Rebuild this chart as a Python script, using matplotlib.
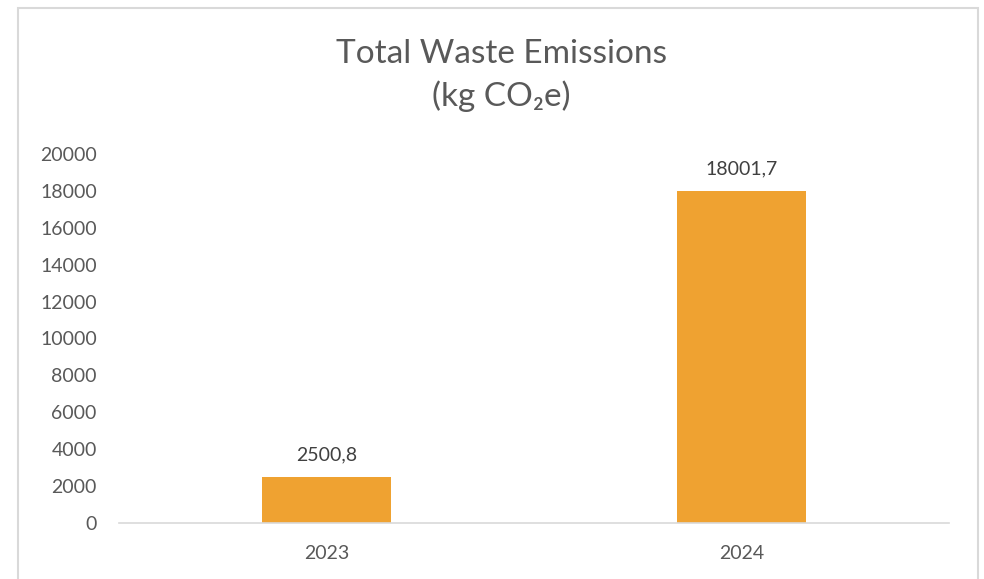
import matplotlib.pyplot as plt
from matplotlib.patches import Rectangle

# data
years = ['2023', '2024']
emissions = [2500.8, 18001.7]
y_ticks = [0, 2000, 4000, 6000, 8000, 10000, 12000, 14000, 16000, 18000, 20000]

bar_color = '#EFA231'
text_gray = '#595959'
label_gray = '#404040'
line_gray = '#D9D9D9'

plt.rcParams['font.family'] = ['Lato', 'DejaVu Sans']

W, H = 984, 579
fig = plt.figure(figsize=(W / 100, H / 100), dpi=100)

# chart border (bottom edge runs off the image)
fig.patches.append(Rectangle((18 / W, -0.05), 960 / W, 1.05 - 8 / H,
                             transform=fig.transFigure, fill=False,
                             edgecolor=line_gray, linewidth=1.5))

ax = fig.add_axes([119 / W, (H - 523) / H, 830 / W, 369 / H])
x = range(len(years))
bars = ax.bar(x, emissions, width=0.313, color=bar_color)

ax.set_xlim(-0.5, 1.5)
ax.set_ylim(0, 20000)
ax.set_yticks(y_ticks)
ax.set_yticklabels([str(t) for t in y_ticks])
ax.set_xticks(list(x))
ax.set_xticklabels(years)
ax.tick_params(axis='y', length=0, pad=16, labelsize=14, labelcolor=text_gray)
ax.tick_params(axis='x', length=0, pad=16, labelsize=14, labelcolor=text_gray)

for side in ['top', 'right', 'left']:
    ax.spines[side].set_visible(False)
ax.spines['bottom'].set_color(line_gray)
ax.spines['bottom'].set_linewidth(1.2)

for xi, v in zip(x, emissions):
    ax.annotate(f'{v:.1f}'.replace('.', ','), xy=(xi, v), xytext=(0, 12),
                textcoords='offset points', ha='center', va='baseline',
                fontsize=14, color=label_gray)

fig.text(501 / W, 1 - 63 / H, 'Total Waste Emissions', ha='center',
         va='baseline', fontsize=24, color=text_gray)
fig.text(501 / W, 1 - 106 / H, '(kg CO₂e)', ha='center',
         va='baseline', fontsize=24, color=text_gray)

fig.savefig('out.png', dpi=100, facecolor='white')
